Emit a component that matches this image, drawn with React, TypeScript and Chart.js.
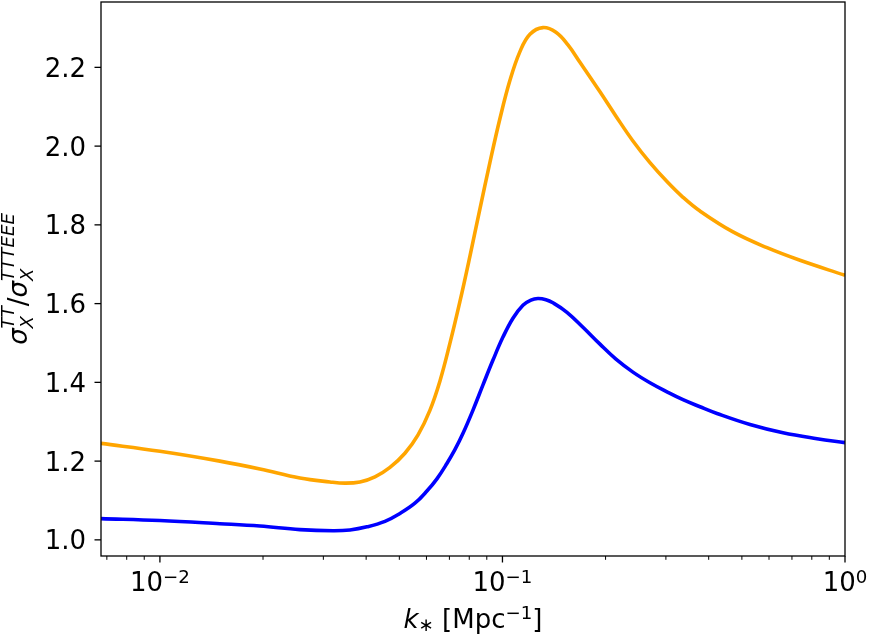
import { useEffect, useRef } from 'react';
import { Chart, registerables } from 'chart.js';

Chart.register(...registerables);

const FONT = '"DejaVu Sans", sans-serif';
const BASE = 26;
const SMALL = 18.2;

// Orange curve: sigma ratio vs k_* [Mpc^-1]
const orangeK = [0.00673, 0.01, 0.014965, 0.019587, 0.02563, 0.031357, 0.034686, 0.038369, 0.04244, 0.046945, 0.051913, 0.056642, 0.061405, 0.065671, 0.070237, 0.075118, 0.080341, 0.085922, 0.091897, 0.098333, 0.10517, 0.11247, 0.12029, 0.13127, 0.14326, 0.15531, 0.16834, 0.19262, 0.21448, 0.2404, 0.26953, 0.30218, 0.33651, 0.37728, 0.47096, 0.592, 0.73889, 1.0];
const orangeRatio = [1.245, 1.225, 1.2, 1.18, 1.157, 1.147, 1.144, 1.147, 1.16, 1.184, 1.22, 1.266, 1.329, 1.403, 1.499, 1.605, 1.72, 1.84, 1.958, 2.07, 2.167, 2.24, 2.284, 2.301, 2.289, 2.257, 2.213, 2.138, 2.076, 2.013, 1.958, 1.91, 1.87, 1.835, 1.782, 1.742, 1.71, 1.672];

// Blue curve
const blueK = [0.00673, 0.01, 0.014965, 0.019587, 0.02563, 0.031997, 0.035871, 0.040218, 0.045394, 0.050197, 0.055513, 0.060178, 0.06436, 0.068834, 0.072637, 0.076649, 0.081977, 0.087673, 0.093769, 0.10034, 0.10731, 0.11476, 0.1211, 0.12693, 0.13394, 0.1404, 0.15427, 0.17177, 0.19262, 0.21448, 0.2404, 0.26953, 0.30218, 0.33651, 0.37728, 0.42296, 0.52803, 0.65917, 0.82843, 1.0];
const blueRatio = [1.054, 1.049, 1.041, 1.035, 1.026, 1.023, 1.025, 1.033, 1.047, 1.067, 1.093, 1.124, 1.155, 1.194, 1.229, 1.27, 1.329, 1.393, 1.456, 1.515, 1.563, 1.596, 1.609, 1.613, 1.61, 1.602, 1.578, 1.54, 1.497, 1.459, 1.426, 1.399, 1.376, 1.356, 1.338, 1.321, 1.293, 1.272, 1.257, 1.247];

// Axis ranges and ticks
const xRange = [0.00673, 1.0];
const yRange = [0.959, 2.366];
const yTicks = [1.0, 1.2, 1.4, 1.6, 1.8, 2.0, 2.2];
const xMajor = [0.01, 0.1, 1];
const xMajorExp = ['\u22122', '\u22121', '0'];
const xMinor = [0.007, 0.008, 0.009, 0.02, 0.03, 0.04, 0.05, 0.06, 0.07, 0.08, 0.09, 0.2, 0.3, 0.4, 0.5, 0.6, 0.7, 0.8, 0.9];

type Run = { t: string; s: number; it?: boolean; dy?: number; stack?: boolean };

const fontOf = (r: Run) => `${r.it ? 'italic ' : ''}${r.s}px ${FONT}`;

// Lay out a run list (with sub/superscript stacking) and draw it
function drawRuns(ctx: CanvasRenderingContext2D, runs: Run[], x: number, y: number, align: 'left' | 'center' | 'right') {
  const placed: { r: Run; x: number }[] = [];
  let cursor = 0;
  let lastStart = 0;
  let lastW = 0;
  for (const r of runs) {
    ctx.font = fontOf(r);
    const w = ctx.measureText(r.t).width;
    if (r.stack) {
      placed.push({ r, x: lastStart });
      cursor = lastStart + Math.max(lastW, w);
      lastW = Math.max(lastW, w);
    } else {
      placed.push({ r, x: cursor });
      lastStart = cursor;
      lastW = w;
      cursor += w;
    }
  }
  const total = cursor;
  const x0 = align === 'left' ? x : align === 'center' ? x - total / 2 : x - total;
  ctx.textAlign = 'left';
  ctx.textBaseline = 'alphabetic';
  for (const p of placed) {
    ctx.font = fontOf(p.r);
    ctx.fillText(p.r.t, x0 + p.x, y + (p.r.dy || 0));
  }
}

const axesPlugin = {
  id: 'mplAxes',
  afterDraw(chart: any) {
    const { ctx, chartArea: a, scales } = chart;
    const xs = scales.x;
    const ys = scales.y;
    ctx.save();
    ctx.fillStyle = '#000';
    ctx.strokeStyle = '#000';

    // frame
    ctx.lineWidth = 1.3;
    ctx.strokeRect(a.left, a.top, a.right - a.left, a.bottom - a.top);

    // y ticks and labels
    for (const v of yTicks) {
      const py = ys.getPixelForValue(v);
      ctx.beginPath();
      ctx.moveTo(a.left - 6.5, py);
      ctx.lineTo(a.left, py);
      ctx.stroke();
      drawRuns(ctx, [{ t: v.toFixed(1), s: BASE }], a.left - 15, py + 9.5, 'right');
    }

    // x minor ticks
    ctx.lineWidth = 1;
    for (const v of xMinor) {
      const px = xs.getPixelForValue(v);
      ctx.beginPath();
      ctx.moveTo(px, a.bottom);
      ctx.lineTo(px, a.bottom + 3.8);
      ctx.stroke();
    }
    // x major ticks and labels
    ctx.lineWidth = 1.3;
    xMajor.forEach((v, i) => {
      const px = xs.getPixelForValue(v);
      ctx.beginPath();
      ctx.moveTo(px, a.bottom);
      ctx.lineTo(px, a.bottom + 6.5);
      ctx.stroke();
      drawRuns(ctx, [{ t: '10', s: BASE }, { t: xMajorExp[i], s: SMALL, dy: -8 }], px, a.bottom + 35, 'center');
    });

    // x axis title
    const cx = (a.left + a.right) / 2;
    drawRuns(
      ctx,
      [
        { t: 'k', s: BASE, it: true },
        { t: '\u2217', s: SMALL, dy: 3 },
        { t: ' [Mpc', s: BASE },
        { t: '\u22121', s: SMALL, dy: -9 },
        { t: ']', s: BASE },
      ],
      cx,
      628,
      'center'
    );

    // y axis title (rotated)
    const cy = (a.top + a.bottom) / 2;
    ctx.translate(27, cy);
    ctx.rotate(-Math.PI / 2);
    drawRuns(
      ctx,
      [
        { t: '\u03c3', s: BASE, it: true },
        { t: 'X', s: SMALL, it: true, dy: 6 },
        { t: 'TT', s: SMALL, it: true, dy: -13, stack: true },
        { t: '/', s: BASE },
        { t: '\u03c3', s: BASE, it: true },
        { t: 'X', s: SMALL, it: true, dy: 6 },
        { t: 'TTTEEE', s: SMALL, it: true, dy: -13, stack: true },
      ],
      0,
      0,
      'center'
    );
    ctx.restore();
  },
};

export default function App() {
  const ref = useRef<HTMLCanvasElement | null>(null);

  useEffect(() => {
    if (!ref.current) return;
    const chart = new Chart(ref.current, {
      type: 'line',
      data: {
        datasets: [
          {
            data: blueK.map((k, i) => ({ x: k, y: blueRatio[i] })),
            borderColor: '#0000ff',
            borderWidth: 3.6,
            pointRadius: 0,
            tension: 0.4,
            fill: false,
          },
          {
            data: orangeK.map((k, i) => ({ x: k, y: orangeRatio[i] })),
            borderColor: '#ffa500',
            borderWidth: 3.6,
            pointRadius: 0,
            tension: 0.4,
            fill: false,
          },
        ],
      },
      options: {
        responsive: false,
        animation: false,
        layout: { padding: { top: 2, right: 24, left: 0, bottom: 0 } },
        plugins: { legend: { display: false }, tooltip: { enabled: false } },
        scales: {
          x: {
            type: 'logarithmic',
            min: xRange[0],
            max: xRange[1],
            ticks: { display: false },
            grid: { display: false },
            border: { display: false },
            afterFit: (s: any) => {
              s.height = 80;
            },
          },
          y: {
            type: 'linear',
            min: yRange[0],
            max: yRange[1],
            ticks: { display: false },
            grid: { display: false },
            border: { display: false },
            afterFit: (s: any) => {
              s.width = 101;
            },
          },
        },
      },
      plugins: [axesPlugin],
    } as any);
    return () => chart.destroy();
  }, []);

  return (
    <div style={{ position: 'absolute', left: 0, top: 0, width: 869, height: 636, background: '#fff' }}>
      <canvas ref={ref} width={869} height={636} style={{ display: 'block' }} />
    </div>
  );
}
